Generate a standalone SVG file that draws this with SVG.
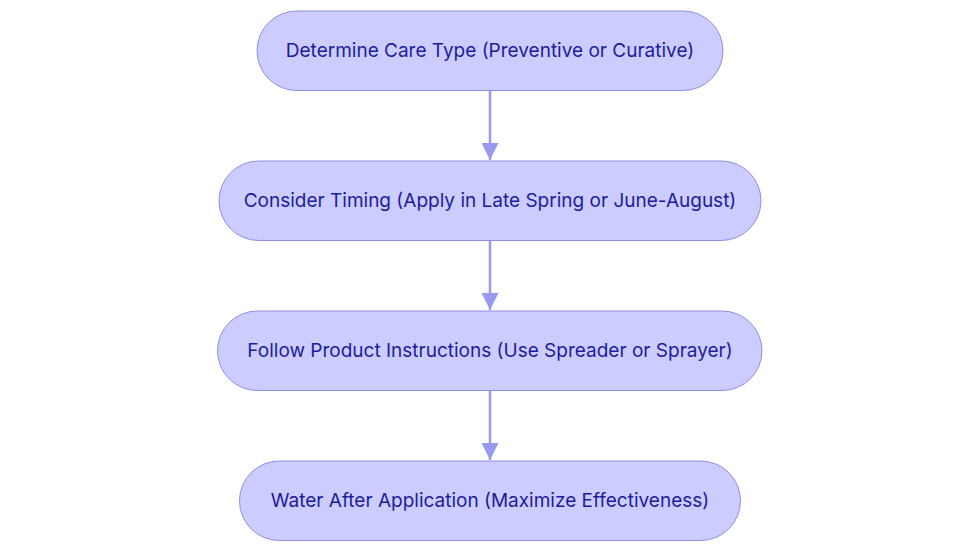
<svg xmlns="http://www.w3.org/2000/svg" width="980" height="553" viewBox="0 0 980 553">
<style>
.n{fill:#ccccff;stroke:#8f8fe0;stroke-width:1}
.t{font-family:Inter,"Liberation Sans",sans-serif;font-size:19px;fill:#1c1c9c;text-anchor:middle;dominant-baseline:central}
.e{stroke:#9999ee;stroke-width:2.5;fill:none}
</style>
<defs>
<marker id="ah" markerWidth="17" markerHeight="17" refX="17" refY="8.5" orient="auto" markerUnits="userSpaceOnUse">
<path d="M0,0 L17,8.5 L0,17 Z" fill="#9999ee"/>
</marker>
</defs>
<rect width="980" height="553" fill="#ffffff"/>
<g id="edges">
<line class="e" x1="490" y1="91" x2="490" y2="160" marker-end="url(#ah)"/>
<line class="e" x1="490" y1="241" x2="490" y2="310" marker-end="url(#ah)"/>
<line class="e" x1="490" y1="391" x2="490" y2="460" marker-end="url(#ah)"/>
</g>
<g id="n1">
<rect class="n" x="257" y="11" width="466" height="79.5" rx="39.75"/>
<text class="t" x="490" y="50">Determine Care Type (Preventive or Curative)</text>
</g>
<g id="n2">
<rect class="n" x="219" y="161" width="542" height="79.5" rx="39.75"/>
<text class="t" x="490" y="200">Consider Timing (Apply in Late Spring or June-August)</text>
</g>
<g id="n3">
<rect class="n" x="217.5" y="311" width="544.5" height="79.5" rx="39.75"/>
<text class="t" x="490" y="350">Follow Product Instructions (Use Spreader or Sprayer)</text>
</g>
<g id="n4">
<rect class="n" x="239.5" y="461" width="501" height="79.5" rx="39.75"/>
<text class="t" x="490" y="500">Water After Application (Maximize Effectiveness)</text>
</g>
</svg>
